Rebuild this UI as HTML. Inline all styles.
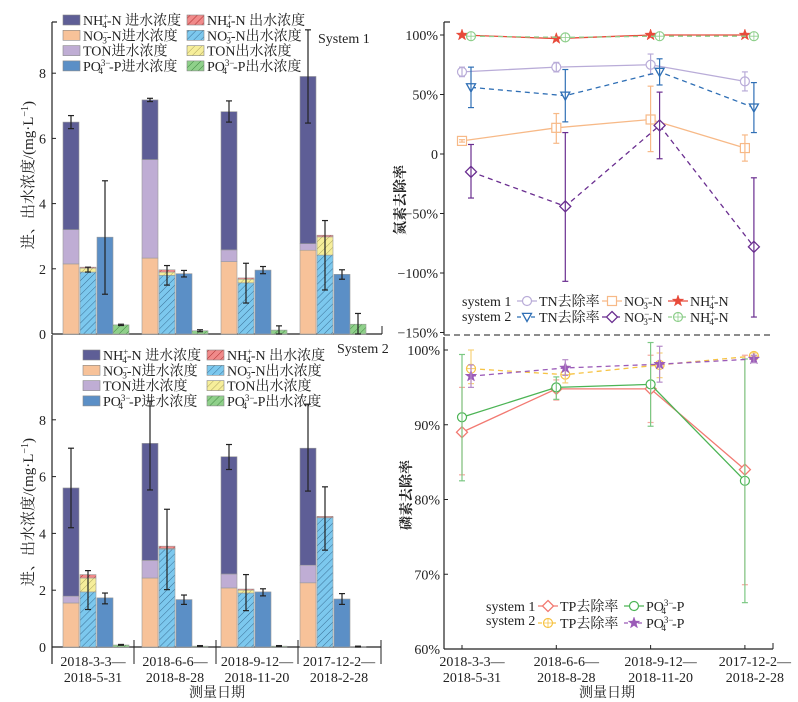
<!DOCTYPE html>
<html><head><meta charset="utf-8"><style>
html,body{margin:0;padding:0;background:#fff;}
svg{display:block;font-family:"Liberation Serif","Noto Serif CJK SC","Noto Sans CJK SC",serif;}
</style></head><body>
<svg id="c" width="798" height="702" viewBox="0 0 798 702" xmlns="http://www.w3.org/2000/svg">
<defs>
<pattern id="hRed" width="5" height="5" patternUnits="userSpaceOnUse" patternTransform="rotate(45)"><rect width="5" height="5" fill="#f08a8a"/><line x1="0" y1="0" x2="0" y2="5" stroke="#b03030" stroke-width="1"/></pattern>
<pattern id="hBlue" width="5" height="5" patternUnits="userSpaceOnUse" patternTransform="rotate(45)"><rect width="5" height="5" fill="#7cc8ee"/><line x1="0" y1="0" x2="0" y2="5" stroke="#2a5a80" stroke-width="0.8"/></pattern>
<pattern id="hYel" width="5" height="5" patternUnits="userSpaceOnUse" patternTransform="rotate(45)"><rect width="5" height="5" fill="#f6ee9a"/><line x1="0" y1="0" x2="0" y2="5" stroke="#9a9050" stroke-width="0.8"/></pattern>
<pattern id="hGrn" width="5" height="5" patternUnits="userSpaceOnUse" patternTransform="rotate(45)"><rect width="5" height="5" fill="#8fd08a"/><line x1="0" y1="0" x2="0" y2="5" stroke="#2f7a30" stroke-width="0.8"/></pattern>
</defs>
<g id="root"></g>
</svg>
<script>
// ===== data =====
const categories1 = ["2018-3-3—|2018-5-31","2018-6-6—|2018-8-28","2018-9-12—|2018-11-20","2017-12-2—|2018-2-28"];
const s1InNO3 = [2.15, 2.33, 2.22, 2.57];
const s1InTON = [3.2, 5.35, 2.58, 2.77];
const s1InNH4 = [6.5, 7.18, 6.82, 7.9];
const s1InErrLo = [6.3, 7.13, 6.5, 6.47];
const s1InErrHi = [6.7, 7.23, 7.15, 9.33];
const s1OutNO3 = [1.9, 1.8, 1.57, 2.42];
const s1OutTON = [2.02, 1.9, 1.68, 2.98];
const s1OutNH4 = [2.05, 1.97, 1.72, 3.03];
const s1OutErrLo = [1.9, 1.5, 0.95, 1.35];
const s1OutErrHi = [2.05, 2.1, 2.17, 3.48];
const s1PIn = [2.97, 1.85, 1.96, 1.83];
const s1PInLo = [1.22, 1.75, 1.85, 1.68];
const s1PInHi = [4.7, 1.95, 2.07, 1.97];
const s1POut = [0.28, 0.1, 0.12, 0.3];
const s1POutLo = [0.26, 0.07, 0, 0];
const s1POutHi = [0.3, 0.13, 0.25, 0.63];
const s2InNO3 = [1.55, 2.43, 2.08, 2.26];
const s2InTON = [1.79, 3.05, 2.57, 2.88];
const s2InNH4 = [5.6, 7.17, 6.7, 7.0];
const s2InErrLo = [4.2, 5.53, 6.25, 5.49];
const s2InErrHi = [7.0, 8.66, 7.13, 8.55];
const s2OutNO3 = [1.94, 3.45, 1.9, 4.55];
const s2OutTON = [2.43, 3.47, 2.0, 4.56];
const s2OutNH4 = [2.55, 3.55, 2.04, 4.6];
const s2OutErrLo = [1.32, 2.02, 1.28, 3.41];
const s2OutErrHi = [2.69, 4.85, 2.55, 5.64];
const s2PIn = [1.73, 1.67, 1.94, 1.69];
const s2PInLo = [1.52, 1.5, 1.8, 1.5];
const s2PInHi = [1.9, 1.83, 2.05, 1.88];
const s2POut = [0.07, 0.03, 0.03, 0.01];
const tn1 = [69, 73, 75, 61], tn1Lo = [65, 69, 67, 53], tn1Hi = [73, 77, 84, 69];
const tn2 = [56, 49, 69, 39], tn2Lo = [39, 27, 58, 18], tn2Hi = [73, 71, 80, 60];
const no31 = [11, 22, 29, 5], no31Lo = [10, 9, 2, -6], no31Hi = [12, 34, 57, 16];
const no32 = [-15, -44, 24, -78], no32Lo = [-37, -107, -4, -137], no32Hi = [8, 18, 52, -20];
const nh41 = [100, 97, 100, 100];
const nh42 = [99, 98, 99, 99];
const nTicks = [100, 50, 0, -50, -100, -150];
const nTickLabels = ["100%", "50%", "0", "−50%", "−100%", "−150%"];
const tp1 = [89, 94.8, 94.8, 84], tp1Lo = [83.3, 93.3, 90.3, 68.6], tp1Hi = [95, 96, 99.3, 99.3];
const po1 = [91, 95, 95.4, 82.5], po1Lo = [82.5, 93.4, 89.8, 66.2], po1Hi = [99.4, 96.4, 101, 98.8];
const tp2 = [97.5, 96.7, 98, 99.2], tp2Lo = [95.5, 95.6, 96.3, 98.8], tp2Hi = [100, 97.8, 99.6, 99.6];
const po2 = [96.5, 97.6, 98.1, 98.8], po2Lo = [95, 96.6, 95.7, 98.3], po2Hi = [98, 98.7, 100.5, 99.3];
const pTicks = [100, 90, 80, 70, 60];
const pTickLabels = ["100%", "90%", "80%", "70%", "60%"];
const barTicks = [0, 2, 4, 6, 8];

// ===== helpers =====
const NS = "http://www.w3.org/2000/svg";
const root = document.getElementById("root");
function mk(tag, attrs, parent) {
  const e = document.createElementNS(NS, tag);
  for (const k in attrs) e.setAttribute(k, attrs[k]);
  (parent || root).appendChild(e);
  return e;
}
function txt(x, y, s, attrs, parent) {
  const e = mk("text", Object.assign({x: x, y: y, "font-size": 14, fill: "#222"}, attrs || {}), parent);
  e.innerHTML = s;
  return e;
}
const BW = 16;
function groupX(i) { return 63 + i * 79; }
function yTop(v) { return 334 - v * 32.6; }
function yBot(v) { return 647 - v * 28.4; }
function nY(v) { return 154 - v * 1.19; }
function pY(v) { return 350 + (100 - v) * 7.475; }
function lineX(i) { return 462 + i * 94.3; }

function errBar(x, lo, hi, color, cap) {
  const g = mk("g", {});
  
  
  mk("line", {x1: x, x2: x, y1: lo, y2: hi, stroke: color, "stroke-width": 1.2}, g);
  mk("line", {x1: x - cap, x2: x + cap, y1: lo, y2: lo, stroke: color, "stroke-width": 1.2}, g);
  mk("line", {x1: x - cap, x2: x + cap, y1: hi, y2: hi, stroke: color, "stroke-width": 1.2}, g);
}

function barPanel(yf, inN, inT, inH, inLo, inHi, oN, oT, oH, oLo, oHi, pIn, pLo, pHi, pOut, pOLo, pOHi, sys) {
  for (let i = 0; i < 4; i++) {
    const x0 = groupX(i);
    const g = mk("g", {});
    
    
    const r = (x, v0, v1, fill, name) => {
      const e = mk("rect", {x: x, y: yf(v1), width: BW, height: Math.max(0, yf(v0) - yf(v1)), fill: fill, stroke: "#9a9a9a", "stroke-width": 0.6}, g);
      
      
    };
    r(x0, 0, inN[i], "#f7c299", "bar-no3-influent");
    r(x0, inN[i], inT[i], "#bfadd4", "bar-ton-influent");
    r(x0, inT[i], inH[i], "#5e5e96", "bar-nh4-influent");
    errBar(x0 + BW / 2, yf(inLo[i]), yf(inHi[i]), "#222", 3);
    const x1 = x0 + 17;
    r(x1, 0, oN[i], "url(#hBlue)", "bar-no3-effluent");
    r(x1, oN[i], oT[i], "url(#hYel)", "bar-ton-effluent");
    r(x1, oT[i], oH[i], "url(#hRed)", "bar-nh4-effluent");
    errBar(x1 + BW / 2, yf(oLo[i]), yf(oHi[i]), "#222", 3);
    const x2 = x0 + 34;
    r(x2, 0, pIn[i], "#5b8fc6", "bar-po4-influent");
    errBar(x2 + BW / 2, yf(pLo[i]), yf(pHi[i]), "#222", 3);
    const x3 = x0 + 50;
    r(x3, 0, pOut[i], "url(#hGrn)", "bar-po4-effluent");
    if (pOLo) errBar(x3 + BW / 2, yf(pOLo[i]), yf(pOHi[i]), "#222", 3);
    else errBar(x3 + BW / 2, yf(pOut[i] - 0.01), yf(pOut[i] + 0.02), "#222", 3);
  }
}

(function () {
  const g = mk("g", {});
  
  
  mk("line", {x1: 52, x2: 52, y1: 22, y2: 334, stroke: "#222", "stroke-width": 1.2}, g);
  mk("line", {x1: 52, x2: 57, y1: 22, y2: 22, stroke: "#222", "stroke-width": 1.2}, g);
  barTicks.forEach(t => {
    mk("line", {x1: 52, x2: 56, y1: yTop(t), y2: yTop(t), stroke: "#222"}, g);
    txt(46, yTop(t) + 5, t, {"text-anchor": "end"}, g);
  });
  const xa = mk("line", {x1: 52, x2: 382, y1: 334, y2: 334, stroke: "#222", "stroke-width": 1.2});
  
  
  mk("line", {x1: 382, x2: 382, y1: 326, y2: 334, stroke: "#222"});
  const yl = txt(0, 0, "进、出水浓度/(mg·L<tspan dy='-5' font-size='10'>−1</tspan><tspan dy='5'>)</tspan>", {"text-anchor": "middle", transform: "translate(33,175) rotate(-90)", "font-size": 15});
  
  
  const st = txt(318, 43, "System 1", {});
  
  
})();
barPanel(yTop, s1InNO3, s1InTON, s1InNH4, s1InErrLo, s1InErrHi, s1OutNO3, s1OutTON, s1OutNH4, s1OutErrLo, s1OutErrHi, s1PIn, s1PInLo, s1PInHi, s1POut, s1POutLo, s1POutHi, "s1");

(function () {
  const g = mk("g", {});
  
  
  mk("line", {x1: 52, x2: 52, y1: 335, y2: 664, stroke: "#222", "stroke-width": 1.2}, g);
  barTicks.forEach(t => {
    mk("line", {x1: 52, x2: 56, y1: yBot(t), y2: yBot(t), stroke: "#222"}, g);
    txt(46, yBot(t) + 5, t, {"text-anchor": "end"}, g);
  });
  const xg = mk("g", {});
  
  
  mk("line", {x1: 52, x2: 381, y1: 647, y2: 647, stroke: "#222", "stroke-width": 1.2}, xg);
  [52, 134, 216, 298, 381].forEach(x => mk("line", {x1: x, x2: x, y1: 640, y2: 664, stroke: "#222"}, xg));
  categories1.forEach((c, i) => {
    const p = c.split("|");
    const cx = 93 + i * 82;
    txt(cx, 666, p[0], {"text-anchor": "middle"}, xg);
    txt(cx, 682, p[1], {"text-anchor": "middle"}, xg);
  });
  const xt = txt(217, 697, "测量日期", {"text-anchor": "middle"});
  
  
  const yl = txt(0, 0, "进、出水浓度/(mg·L<tspan dy='-5' font-size='10'>−1</tspan><tspan dy='5'>)</tspan>", {"text-anchor": "middle", transform: "translate(33,512) rotate(-90)", "font-size": 15});
  
  
  const st = txt(337, 353, "System 2", {});
  
  
})();
barPanel(yBot, s2InNO3, s2InTON, s2InNH4, s2InErrLo, s2InErrHi, s2OutNO3, s2OutTON, s2OutNH4, s2OutErrLo, s2OutErrHi, s2PIn, s2PInLo, s2PInHi, s2POut, null, null, "s2");

function barLegend(x1, x2, y0, prefix) {
  const g = mk("g", {});
  
  
  const items = [
    ["#5e5e96", "NH<tspan dy='-5' font-size='9'>+</tspan><tspan dx='-6' dy='8' font-size='9'>4</tspan><tspan dy='-3'>-N 进水浓度</tspan>", "url(#hRed)", "NH<tspan dy='-5' font-size='9'>+</tspan><tspan dx='-6' dy='8' font-size='9'>4</tspan><tspan dy='-3'>-N 出水浓度</tspan>"],
    ["#f7c299", "NO<tspan dy='-5' font-size='9'>−</tspan><tspan dx='-6' dy='8' font-size='9'>3</tspan><tspan dy='-3'>-N进水浓度</tspan>", "url(#hBlue)", "NO<tspan dy='-5' font-size='9'>−</tspan><tspan dx='-6' dy='8' font-size='9'>3</tspan><tspan dy='-3'>-N出水浓度</tspan>"],
    ["#bfadd4", "TON进水浓度", "url(#hYel)", "TON出水浓度"],
    ["#5b8fc6", " PO<tspan dy='-5' font-size='9'>3−</tspan><tspan dx='-12' dy='8' font-size='9'>4</tspan><tspan dx='6' dy='-3'>-P进水浓度</tspan>", "url(#hGrn)", "PO<tspan dy='-5' font-size='9'>3−</tspan><tspan dx='-12' dy='8' font-size='9'>4</tspan><tspan dx='6' dy='-3'>-P出水浓度</tspan>"]
  ];
  items.forEach((it, k) => {
    const y = y0 + k * 15.3;
    mk("rect", {x: x1, y: y - 5, width: 17, height: 10, fill: it[0], stroke: "#888", "stroke-width": 0.6}, g);
    txt(x1 + 20, y + 5, it[1], {}, g);
    mk("rect", {x: x2, y: y - 5, width: 17, height: 10, fill: it[2], stroke: "#888", "stroke-width": 0.6}, g);
    txt(x2 + 20, y + 5, it[3], {}, g);
  });
}
barLegend(63, 187, 20, "system1");
barLegend(83, 207, 355, "system2");

function marker(type, x, y, color, parent) {
  const s = 4.5;
  if (type === "circle") mk("circle", {cx: x, cy: y, r: s, fill: "#fff", stroke: color, "stroke-width": 1.2}, parent);
  else if (type === "circleplus") { mk("circle", {cx: x, cy: y, r: s, fill: "#fff", stroke: color, "stroke-width": 1.2}, parent); mk("path", {d: `M${x-s},${y}H${x+s}M${x},${y-s}V${y+s}`, stroke: color, "stroke-width": 0.8}, parent); }
  else if (type === "square") mk("rect", {x: x - s, y: y - s, width: 2 * s, height: 2 * s, fill: "#fff", stroke: color, "stroke-width": 1.2}, parent);
  else if (type === "tri") mk("path", {d: `M${x-s},${y-s*0.8}L${x+s},${y-s*0.8}L${x},${y+s}Z`, fill: "#fff", stroke: color, "stroke-width": 1.3}, parent);
  else if (type === "diamond") mk("path", {d: `M${x},${y-s-1}L${x+s+1},${y}L${x},${y+s+1}L${x-s-1},${y}Z`, fill: "#fff", stroke: color, "stroke-width": 1.3}, parent);
  else if (type === "star") {
    let d = "";
    for (let k = 0; k < 10; k++) { const a = -Math.PI / 2 + k * Math.PI / 5; const rr = k % 2 ? 2.4 : 6; d += (k ? "L" : "M") + (x + rr * Math.cos(a)).toFixed(2) + "," + (y + rr * Math.sin(a)).toFixed(2); }
    mk("path", {d: d + "Z", fill: color, stroke: color, "stroke-width": 0.5}, parent);
  }
}
function series(name, vals, lo, hi, yf, off, color, type, dashed, errColor) {
  const g = mk("g", {});
  
  
  if (lo) vals.forEach((v, i) => errBar(lineX(i) + off, yf(lo[i]), yf(hi[i]), errColor || color, 3));
  const pts = vals.map((v, i) => (lineX(i) + off) + "," + yf(v)).join(" ");
  mk("polyline", {points: pts, fill: "none", stroke: color, "stroke-width": 1.3, "stroke-dasharray": dashed ? "5,4" : "none"}, g);
  vals.forEach((v, i) => marker(type, lineX(i) + off, yf(v), color, g));
}

(function () {
  const g = mk("g", {});
  
  
  mk("line", {x1: 444, x2: 444, y1: 22, y2: 335, stroke: "#222", "stroke-width": 1.2}, g);
  mk("line", {x1: 444, x2: 450, y1: 22, y2: 22, stroke: "#222", "stroke-width": 1.2}, g);
  nTicks.forEach((t, k) => {
    mk("line", {x1: 440, x2: 444, y1: nY(t), y2: nY(t), stroke: "#222"}, g);
    txt(438, nY(t) + 5, nTickLabels[k], {"text-anchor": "end"}, g);
  });
  const yl = txt(0, 0, "氮素去除率", {"text-anchor": "middle", transform: "translate(405,200) rotate(-90)", "font-weight": "bold"});
  
  
  const sep = mk("line", {x1: 444, x2: 772, y1: 335, y2: 335, stroke: "#666", "stroke-width": 1.5, "stroke-dasharray": "6,4"});
  
  
})();
series("series-tn-system1", tn1, tn1Lo, tn1Hi, nY, 0, "#b9acd8", "circle", false);
series("series-tn-system2", tn2, tn2Lo, tn2Hi, nY, 9, "#2f6fb5", "tri", true);
series("series-no3-system1", no31, no31Lo, no31Hi, nY, 0, "#f7b987", "square", false);
series("series-no3-system2", no32, no32Lo, no32Hi, nY, 9, "#6a2e90", "diamond", true);
series("series-nh4-system1", nh41, null, null, nY, 0, "#e84a3a", "star", false);
series("series-nh4-system2", nh42, null, null, nY, 9, "#8fcf8c", "circleplus", true);

(function () {
  const g = mk("g", {});
  
  
  txt(462, 306, "system 1", {}, g);
  txt(462, 321, "system 2", {}, g);
  const ent = (x, y, color, type, dash, label) => {
    mk("line", {x1: x, x2: x + 20, y1: y, y2: y, stroke: color, "stroke-width": 1.3, "stroke-dasharray": dash ? "4,3" : "none"}, g);
    marker(type, x + 10, y, color, g);
    txt(x + 22, y + 5, label, {}, g);
  };
  const no3 = "NO<tspan dy='-5' font-size='9'>−</tspan><tspan dx='-6' dy='8' font-size='9'>3</tspan><tspan dy='-3'>-N</tspan>";
  const nh4 = "NH<tspan dy='-5' font-size='9'>+</tspan><tspan dx='-6' dy='8' font-size='9'>4</tspan><tspan dy='-3'>-N</tspan>";
  ent(517, 301, "#b9acd8", "circle", false, "TN去除率");
  ent(517, 317, "#2f6fb5", "tri", true, "TN去除率");
  ent(602, 301, "#f7b987", "square", false, no3);
  ent(602, 317, "#6a2e90", "diamond", true, no3);
  ent(668, 301, "#e84a3a", "star", false, nh4);
  ent(668, 317, "#8fcf8c", "circleplus", true, nh4);
})();

(function () {
  const g = mk("g", {});
  
  
  mk("line", {x1: 444, x2: 444, y1: 337, y2: 649, stroke: "#222", "stroke-width": 1.2}, g);
  pTicks.forEach((t, k) => {
    mk("line", {x1: 444, x2: 448, y1: pY(t), y2: pY(t), stroke: "#222"}, g);
    txt(440, pY(t) + 5, pTickLabels[k], {"text-anchor": "end"}, g);
  });
  const xg = mk("g", {});
  
  
  mk("line", {x1: 444, x2: 773, y1: 649, y2: 649, stroke: "#222", "stroke-width": 1.2}, xg);
  mk("line", {x1: 773, x2: 773, y1: 643, y2: 649, stroke: "#222"}, xg);
  categories1.forEach((c, i) => {
    const p = c.split("|");
    const cx = lineX(i) + 10;
    mk("line", {x1: lineX(i), x2: lineX(i), y1: 645, y2: 649, stroke: "#222"}, xg);
    txt(cx, 666, p[0], {"text-anchor": "middle"}, xg);
    txt(cx, 682, p[1], {"text-anchor": "middle"}, xg);
  });
  const xt = txt(607, 697, "测量日期", {"text-anchor": "middle"});
  
  
  const yl = txt(0, 0, "磷素去除率", {"text-anchor": "middle", transform: "translate(411,495) rotate(-90)", "font-weight": "bold"});
  
  
})();
series("series-tp-system1", tp1, tp1Lo, tp1Hi, pY, 0, "#f27a72", "diamond", false, "#f5a8a0");
series("series-po4-system1", po1, po1Lo, po1Hi, pY, 0, "#4cb455", "circle", false, "#7cc884");
series("series-tp-system2", tp2, tp2Lo, tp2Hi, pY, 9, "#f6c344", "circleplus", true, "#f6d27a");
series("series-po4-system2", po2, po2Lo, po2Hi, pY, 9, "#9b5bb8", "star", true, "#b58ac8");

(function () {
  const g = mk("g", {});
  
  
  txt(486, 611, "system 1", {}, g);
  txt(486, 625, "system 2", {}, g);
  const ent = (x, y, color, type, dash, label) => {
    mk("line", {x1: x, x2: x + 20, y1: y, y2: y, stroke: color, "stroke-width": 1.3, "stroke-dasharray": dash ? "4,3" : "none"}, g);
    marker(type, x + 10, y, color, g);
    txt(x + 22, y + 5, label, {}, g);
  };
  const po4 = "PO<tspan dy='-5' font-size='9'>3−</tspan><tspan dx='-12' dy='8' font-size='9'>4</tspan><tspan dx='6' dy='-3'>-P</tspan>";
  ent(538, 606, "#f27a72", "diamond", false, "TP去除率");
  ent(538, 623, "#f6c344", "circleplus", true, "TP去除率");
  ent(624, 606, "#4cb455", "circle", false, po4);
  ent(624, 623, "#9b5bb8", "star", true, po4);
})();
</script>
</body></html>
